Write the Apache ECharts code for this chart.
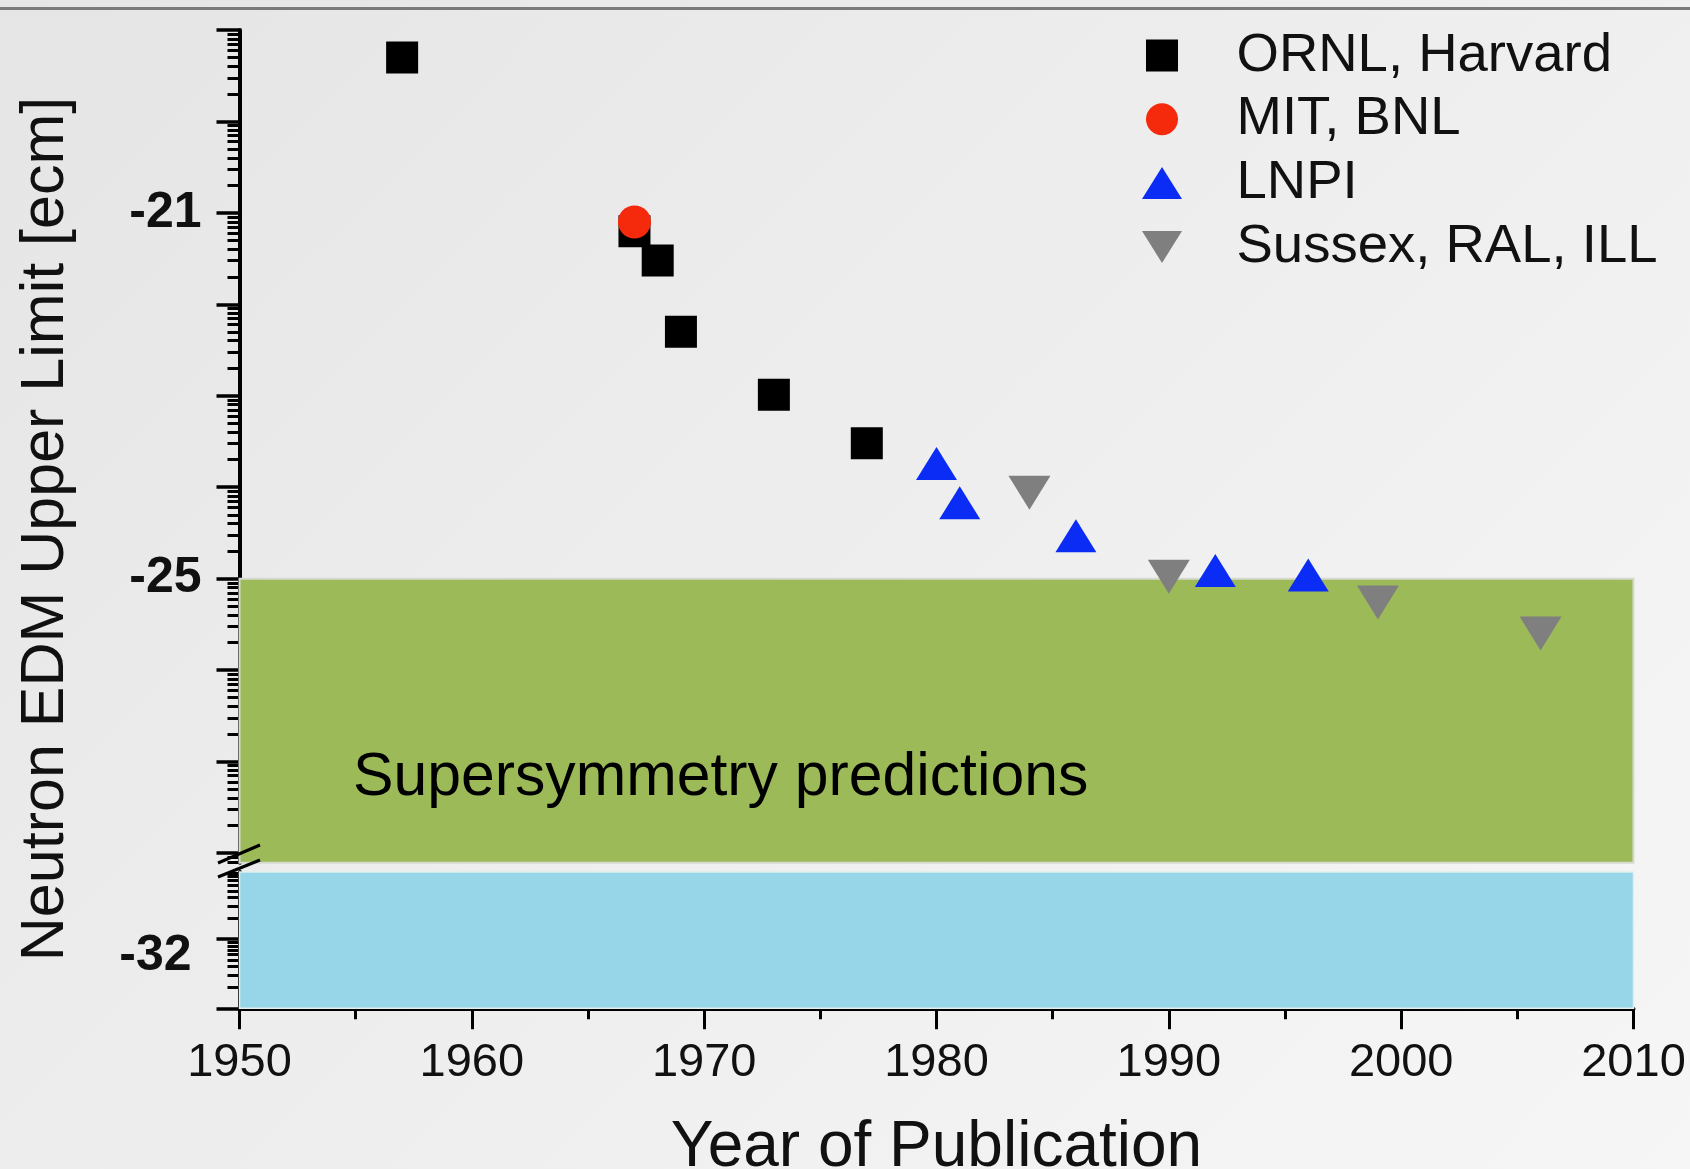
<!DOCTYPE html>
<html><head><meta charset="utf-8">
<script src="https://cdn.jsdelivr.net/npm/echarts@6/dist/echarts.min.js"></script>
<style>
html,body{margin:0;padding:0;}
#c{width:1690px;height:1169px;background:linear-gradient(135deg,#e5e5e5 0%,#eeeeee 50%,#f6f6f6 100%);}
</style>
</head><body><div id="c"></div>
<script>
// ---- data (y values are log10 of the EDM upper limit in e·cm) ----
const seriesNames = ['ORNL, Harvard', 'MIT, BNL', 'LNPI', 'Sussex, RAL, ILL'];
const ornlYears = [1957, 1967, 1968, 1969, 1973, 1977];
const ornlExp   = [-19.30, -21.20, -21.52, -22.30, -22.99, -23.52];
const mitYears  = [1967];
const mitExp    = [-21.10];
const lnpiYears = [1980, 1981, 1986, 1992, 1996];
const lnpiExp   = [-23.74, -24.17, -24.53, -24.91, -24.96];
const sussexYears = [1984, 1990, 1999, 2006];
const sussexExp   = [-24.06, -24.98, -25.26, -25.60];

const xRange = [1950, 2010];
const upperRange = [-28.106, -19];   // upper (broken) axis segment
const lowerRange = [-33, -31.03];    // lower axis segment
const upperLabelValues = [-21, -25];
const lowerLabelValues = [-32];
const susyBand = [-25, -28.106];     // "Supersymmetry predictions" band
const susyText = 'Supersymmetry predictions';
const xTitle = 'Year of Publication';
const yTitle = 'Neutron EDM Upper Limit [ecm]';

// ---- axis tick positions (log decades) ----
function decadeTicks(range) {
  const majors = [], minors = [];
  for (let n = Math.floor(range[0]) - 1; n <= Math.ceil(range[1]); n++) {
    if (n >= range[0] - 1e-9 && n <= range[1] + 1e-9) majors.push(n);
    for (let k = 2; k <= 9; k++) {
      const v = n + Math.log10(k);
      if (v >= range[0] && v <= range[1]) minors.push(v);
    }
  }
  return {majors, minors};
}
const upT = decadeTicks(upperRange);
const loT = decadeTicks(lowerRange);
const zip = (a, b) => a.map((v, i) => [v, b[i]]);

const FONT = '"Liberation Sans", Arial, Helvetica, sans-serif';
const chart = echarts.init(document.getElementById('c'), null, {renderer: 'canvas'});

const GL = 239.5, GR = 1690 - 1633.5;
const yMajorAxis = (grid, range, ticks, labels, lblMargin, extra) => ({
  type: 'value', gridIndex: grid, position: 'left', min: range[0], max: range[1],
  axisLine: {show: true, onZero: false, lineStyle: {color: '#000', width: 4}},
  axisTick: {show: true, customValues: ticks, length: 23, lineStyle: {color: '#000', width: 3.5}},
  axisLabel: Object.assign({show: true, customValues: labels, formatter: v => String(Math.round(v)),
    margin: lblMargin, fontFamily: FONT, fontWeight: 'bold', fontSize: 50, color: '#111'}, extra),
  splitLine: {show: false}
});
const yMinorAxis = (grid, range, ticks) => ({
  type: 'value', gridIndex: grid, position: 'left', min: range[0], max: range[1],
  axisLine: {show: false}, axisLabel: {show: false}, splitLine: {show: false},
  axisTick: {show: true, customValues: ticks, length: 12, lineStyle: {color: '#000', width: 3}}
});

const option = {
  backgroundColor: 'transparent',
  animation: false,
  grid: [
    {left: GL, right: GR, top: 30, height: 832.7, containLabel: false, outerBoundsMode: 'none'},
    {left: GL, right: GR, top: 872, height: 136.3, containLabel: false, outerBoundsMode: 'none'}
  ],
  xAxis: [
    {type: 'value', gridIndex: 0, min: xRange[0], max: xRange[1], show: false},
    {type: 'value', gridIndex: 1, min: xRange[0], max: xRange[1], interval: 10,
      axisLine: {show: true, onZero: false, lineStyle: {color: '#000', width: 4}},
      axisTick: {show: true, length: 21, lineStyle: {color: '#000', width: 3}},
      minorTick: {show: true, splitNumber: 2, length: 11, lineStyle: {color: '#000', width: 3}},
      axisLabel: {margin: 31, fontFamily: FONT, fontSize: 47, color: '#111', formatter: v => String(v)},
      splitLine: {show: false},
      name: xTitle, nameLocation: 'middle', nameGap: 108,
      nameTextStyle: {fontFamily: FONT, fontSize: 64, color: '#111'}
    }
  ],
  yAxis: [
    yMajorAxis(0, upperRange, upT.majors, upperLabelValues, 38, {}),
    yMinorAxis(0, upperRange, upT.minors),
    yMajorAxis(1, lowerRange, loT.majors, lowerLabelValues, 48, {verticalAlign: 'top', lineHeight: 34}),
    yMinorAxis(1, lowerRange, loT.minors)
  ],
  legend: {
    orient: 'vertical', left: 1137, top: 23, itemWidth: 40, itemHeight: 32, itemGap: 8.8,
    symbolKeepAspect: true, selectedMode: false,
    textStyle: {fontFamily: FONT, fontSize: 54.5, color: '#111', lineHeight: 52, padding: [0, 0, 0, 49.5]},
    data: [
      {name: seriesNames[0], icon: 'path://M0,0L1,0L1,1L0,1Z'},
      {name: seriesNames[1], icon: 'circle'},
      {name: seriesNames[2], icon: 'triangle'},
      {name: seriesNames[3], icon: 'path://M0,0L5,0L2.5,4Z'}
    ]
  },
  series: [
    {type: 'scatter', xAxisIndex: 0, yAxisIndex: 0, data: [], silent: true, z: 1,
      markArea: {silent: true, itemStyle: {color: '#9dba59', borderColor: '#d6d9cf', borderWidth: 2},
        data: [[{xAxis: xRange[0], yAxis: susyBand[0]}, {xAxis: xRange[1], yAxis: susyBand[1]}]]}},
    {type: 'scatter', xAxisIndex: 1, yAxisIndex: 2, data: [], silent: true, z: 1,
      markArea: {silent: true, itemStyle: {color: '#97d6e8', borderColor: '#e2eef0', borderWidth: 1.5},
        data: [[{xAxis: xRange[0], yAxis: lowerRange[1]}, {xAxis: xRange[1], yAxis: lowerRange[0]}]]}},
    {type: 'scatter', name: seriesNames[0], xAxisIndex: 0, yAxisIndex: 0, z: 5,
      symbol: 'rect', symbolSize: 32, itemStyle: {color: '#000', opacity: 1},
      emphasis: {disabled: true}, data: zip(ornlYears, ornlExp)},
    {type: 'scatter', name: seriesNames[1], xAxisIndex: 0, yAxisIndex: 0, z: 6,
      symbol: 'circle', symbolSize: 33, itemStyle: {color: '#f5290b', opacity: 1},
      emphasis: {disabled: true}, data: zip(mitYears, mitExp)},
    {type: 'scatter', name: seriesNames[2], xAxisIndex: 0, yAxisIndex: 0, z: 5,
      symbol: 'triangle', symbolSize: [41, 33], itemStyle: {color: '#0a2cf5', opacity: 1},
      emphasis: {disabled: true}, data: zip(lnpiYears, lnpiExp)},
    {type: 'scatter', name: seriesNames[3], xAxisIndex: 0, yAxisIndex: 0, z: 5,
      symbol: 'path://M0,0L5,0L2.5,4Z', symbolSize: [42, 34], itemStyle: {color: '#7f7f7f', opacity: 1},
      emphasis: {disabled: true}, data: zip(sussexYears, sussexExp)}
  ],
  graphic: [
    {type: 'rect', z: 100, shape: {x: 0, y: 7, width: 1690, height: 3}, style: {fill: '#7a7a7a'}},
    {type: 'line', z: 100, shape: {x1: 218, y1: 863, x2: 260, y2: 845}, style: {stroke: '#000', lineWidth: 3}},
    {type: 'line', z: 100, shape: {x1: 218, y1: 877, x2: 260, y2: 860}, style: {stroke: '#000', lineWidth: 3}},
    {type: 'text', z: 100, x: 353, y: 778,
      style: {text: susyText, fontFamily: FONT, fontSize: 60.7, fill: '#000', align: 'left', verticalAlign: 'middle'}},
    {type: 'text', z: 100, x: 46, y: 529, rotation: Math.PI / 2,
      style: {text: yTitle, fontFamily: FONT, fontSize: 61, fill: '#111', align: 'center', verticalAlign: 'middle'}}
  ]
};
chart.setOption(option);
</script>
</body></html>
